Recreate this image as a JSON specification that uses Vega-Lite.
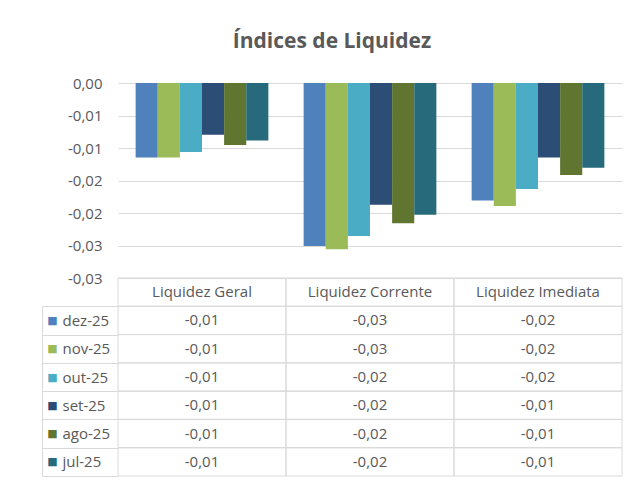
{
  "$schema": "https://vega.github.io/schema/vega-lite/v6.json",
  "width": 504,
  "height": 393,
  "autosize": {"type": "none"},
  "padding": {"left": 118, "top": 83, "right": 10, "bottom": 8},
  "background": "white",
  "title": {"text": "Índices de Liquidez", "anchor": "middle", "frame": "bounds", "fontSize": 21, "fontWeight": "bold", "color": "#595959", "font": "Open Sans", "offset": 24},
  "datasets": {
    "valores": [
      {"indice": "Liquidez Geral", "serie": "dez-25", "valor": -0.01148},
      {"indice": "Liquidez Geral", "serie": "nov-25", "valor": -0.01148},
      {"indice": "Liquidez Geral", "serie": "out-25", "valor": -0.0106},
      {"indice": "Liquidez Geral", "serie": "set-25", "valor": -0.00797},
      {"indice": "Liquidez Geral", "serie": "ago-25", "valor": -0.00952},
      {"indice": "Liquidez Geral", "serie": "jul-25", "valor": -0.00885},
      {"indice": "Liquidez Corrente", "serie": "dez-25", "valor": -0.02506},
      {"indice": "Liquidez Corrente", "serie": "nov-25", "valor": -0.02557},
      {"indice": "Liquidez Corrente", "serie": "out-25", "valor": -0.02352},
      {"indice": "Liquidez Corrente", "serie": "set-25", "valor": -0.01873},
      {"indice": "Liquidez Corrente", "serie": "ago-25", "valor": -0.02156},
      {"indice": "Liquidez Corrente", "serie": "jul-25", "valor": -0.02028},
      {"indice": "Liquidez Imediata", "serie": "dez-25", "valor": -0.01806},
      {"indice": "Liquidez Imediata", "serie": "nov-25", "valor": -0.01893},
      {"indice": "Liquidez Imediata", "serie": "out-25", "valor": -0.01631},
      {"indice": "Liquidez Imediata", "serie": "set-25", "valor": -0.01148},
      {"indice": "Liquidez Imediata", "serie": "ago-25", "valor": -0.01415},
      {"indice": "Liquidez Imediata", "serie": "jul-25", "valor": -0.01302}
    ],
    "cabecalho": [
      {"indice": "Liquidez Geral"},
      {"indice": "Liquidez Corrente"},
      {"indice": "Liquidez Imediata"}
    ],
    "series": [
      {"serie": "dez-25"},
      {"serie": "nov-25"},
      {"serie": "out-25"},
      {"serie": "set-25"},
      {"serie": "ago-25"},
      {"serie": "jul-25"}
    ]
  },
  "layer": [
    {
      "data": {"name": "valores"},
      "mark": {"type": "bar"},
      "encoding": {
        "x": {"field": "indice", "type": "nominal", "scale": {"domain": ["Liquidez Geral", "Liquidez Corrente", "Liquidez Imediata"], "paddingInner": 0.21, "paddingOuter": 0.105}, "axis": null},
        "xOffset": {"field": "serie", "type": "nominal", "scale": {"domain": ["dez-25", "nov-25", "out-25", "set-25", "ago-25", "jul-25"], "paddingInner": 0, "paddingOuter": 0}},
        "y": {"field": "valor", "type": "quantitative", "scale": {"domain": [-0.03, 0], "range": [195, 0], "nice": false}, "axis": {"orient": "left", "values": [0, -0.005, -0.01, -0.015, -0.02, -0.025, -0.03], "labelExpr": "format(datum.value - 1e-9, '.2f')", "grid": true, "gridColor": "#d9d9d9", "gridWidth": 1, "domain": false, "ticks": false, "labelPadding": 16, "labelFontSize": 15, "labelColor": "#595959", "labelFont": "Open Sans", "title": null}},
        "color": {"field": "serie", "type": "nominal", "scale": {"domain": ["dez-25", "nov-25", "out-25", "set-25", "ago-25", "jul-25"], "range": ["#4f81bd", "#9bbb59", "#4bacc6", "#2c4d75", "#5f7530", "#276a7c"]}, "legend": null}
      }
    },
    {
      "layer": [
        {
          "data": {"name": "valores"},
          "mark": {"type": "rect", "fill": "#ffffff", "fillOpacity": 0, "stroke": "#d9d9d9", "strokeWidth": 1},
          "encoding": {
            "x": {"field": "indice", "type": "nominal", "scale": {"domain": ["Liquidez Geral", "Liquidez Corrente", "Liquidez Imediata"], "paddingInner": 0, "paddingOuter": 0}, "axis": null},
            "y": {"field": "serie", "type": "nominal", "scale": {"domain": ["hdr", "dez-25", "nov-25", "out-25", "set-25", "ago-25", "jul-25"], "range": [195, 393], "paddingInner": 0, "paddingOuter": 0}, "axis": null}
          }
        },
        {
          "data": {"name": "cabecalho"},
          "mark": {"type": "rect", "fill": "#ffffff", "fillOpacity": 0, "stroke": "#d9d9d9", "strokeWidth": 1},
          "encoding": {
            "x": {"field": "indice", "type": "nominal", "scale": {"domain": ["Liquidez Geral", "Liquidez Corrente", "Liquidez Imediata"], "paddingInner": 0, "paddingOuter": 0}, "axis": null},
            "y": {"datum": "hdr", "type": "nominal", "scale": {"domain": ["hdr", "dez-25", "nov-25", "out-25", "set-25", "ago-25", "jul-25"], "range": [195, 393], "paddingInner": 0, "paddingOuter": 0}, "axis": null}
          }
        },
        {
          "data": {"name": "valores"},
          "mark": {"type": "text", "font": "Open Sans", "fontSize": 15, "color": "#595959", "align": "center", "baseline": "middle"},
          "encoding": {
            "x": {"field": "indice", "type": "nominal", "scale": {"domain": ["Liquidez Geral", "Liquidez Corrente", "Liquidez Imediata"], "paddingInner": 0, "paddingOuter": 0}, "axis": null},
            "y": {"field": "serie", "type": "nominal", "scale": {"domain": ["hdr", "dez-25", "nov-25", "out-25", "set-25", "ago-25", "jul-25"], "range": [195, 393], "paddingInner": 0, "paddingOuter": 0}, "axis": null},
            "text": {"field": "valor", "type": "quantitative", "format": ".2f"}
          }
        },
        {
          "data": {"name": "cabecalho"},
          "mark": {"type": "text", "font": "Open Sans", "fontSize": 15, "color": "#595959", "align": "center", "baseline": "middle"},
          "encoding": {
            "x": {"field": "indice", "type": "nominal", "scale": {"domain": ["Liquidez Geral", "Liquidez Corrente", "Liquidez Imediata"], "paddingInner": 0, "paddingOuter": 0}, "axis": null},
            "y": {"datum": "hdr", "type": "nominal", "scale": {"domain": ["hdr", "dez-25", "nov-25", "out-25", "set-25", "ago-25", "jul-25"], "range": [195, 393], "paddingInner": 0, "paddingOuter": 0}, "axis": null},
            "text": {"field": "indice", "type": "nominal"}
          }
        }
      ]
    },
    {
      "data": {"name": "series"},
      "mark": {"type": "point", "opacity": 0},
      "encoding": {
        "y": {"field": "serie", "type": "nominal", "scale": {"domain": ["dez-25", "nov-25", "out-25", "set-25", "ago-25", "jul-25"], "range": [223.3, 393], "paddingInner": 0, "paddingOuter": 0}, "axis": {"orient": "left", "domain": false, "ticks": true, "tickSize": 76, "tickBand": "extent", "tickColor": "#d9d9d9", "tickWidth": 1, "grid": false, "labelAlign": "left", "labelBaseline": "middle", "labelPadding": -20, "labelFontSize": 15, "labelFont": "Open Sans", "labelColor": "#595959", "labelOverlap": false, "title": null}}
      }
    },
    {
      "data": {"name": "series"},
      "mark": {"type": "point", "opacity": 0},
      "encoding": {
        "y": {"field": "serie", "type": "nominal", "scale": {"domain": ["dez-25", "nov-25", "out-25", "set-25", "ago-25", "jul-25"], "range": [223.3, 393], "paddingInner": 0, "paddingOuter": 0}, "axis": {"orient": "left", "offset": 76, "domain": true, "domainColor": "#d9d9d9", "domainWidth": 1, "ticks": false, "tickSize": 0, "grid": false, "labelExpr": "'■'", "labelAlign": "center", "labelBaseline": "middle", "labelPadding": -10, "labelFont": "DejaVu Sans", "labelFontSize": 11, "labelOverlap": false, "labelColor": {"condition": [{"test": "datum.value === 'dez-25'", "value": "#4f81bd"}, {"test": "datum.value === 'nov-25'", "value": "#9bbb59"}, {"test": "datum.value === 'out-25'", "value": "#4bacc6"}, {"test": "datum.value === 'set-25'", "value": "#2c4d75"}, {"test": "datum.value === 'ago-25'", "value": "#5f7530"}], "value": "#276a7c"}, "title": null}}
      }
    }
  ],
  "resolve": {"scale": {"x": "independent", "y": "independent"}, "axis": {"x": "independent", "y": "independent"}},
  "config": {
    "view": {"stroke": null},
    "font": "Open Sans",
    "locale": {"number": {"decimal": ",", "thousands": ".", "grouping": [3], "currency": ["R$", ""], "minus": "-"}}
  }
}
